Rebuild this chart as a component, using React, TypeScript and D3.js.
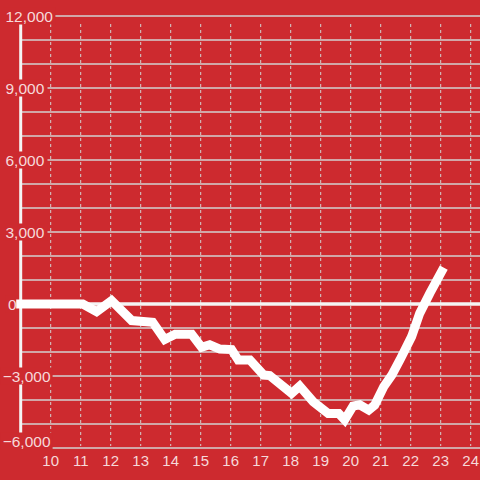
import React from "react";
import * as d3 from "d3";

const hours = [9, 11.07, 11.53, 12.03, 12.7, 13.4, 13.8, 14.15, 14.7, 15.03, 15.3, 15.64, 16.03, 16.25, 16.64, 17.1, 17.3, 18.03, 18.3, 18.75, 19.25, 19.6, 19.8, 20.08, 20.3, 20.6, 20.8, 21.1, 21.37, 21.64, 22.03, 22.3, 22.64, 23.03];
const values = [0, 0, -320, 140, -690, -760, -1480, -1260, -1260, -1800, -1700, -1880, -1900, -2330, -2330, -2960, -2980, -3720, -3420, -4070, -4560, -4560, -4830, -4250, -4200, -4420, -4210, -3450, -2960, -2330, -1360, -390, 450, 1350];
const xTicks = [10, 11, 12, 13, 14, 15, 16, 17, 18, 19, 20, 21, 22, 23, 24];
const yGrid = d3.range(-6000, 12001, 1000);
const yLabels = [12000, 9000, 6000, 3000, 0, -3000, -6000];

const W = 480;
const H = 480;
const BG = "#cd2a2f";
const GRID = "#d2d2d2";
const TEXT = "#f6d9da";

export default function App() {
  const x = d3.scaleLinear().domain([9, 24]).range([20.7, 470.7]);
  const y = d3.scaleLinear().domain([-6000, 12000]).range([448, 16]);
  const fmt = d3.format(",");
  const line = d3
    .line<number>()
    .x((_, i) => x(hours[i]))
    .y((v) => y(v));

  const labelW = (s: string) => s.length * 7.9;
  const yMin = d3.min(yLabels) as number;

  return (
    <div style={{ position: "fixed", left: 0, top: 0, width: W, height: H }}>
      <svg width={W} height={H} style={{ display: "block", fontFamily: "'Liberation Sans', Arial, sans-serif" }}>
        <rect x={0} y={0} width={W} height={H} fill={BG} />
        {xTicks.map((t) => (
          <line key={"vx" + t} x1={x(t)} x2={x(t)} y1={y(12000) + 8} y2={y(-6000) - 2} stroke={GRID} strokeWidth={1} strokeDasharray="3,3" />
        ))}
        {yGrid.map((g) => (
          <line key={"gy" + g} x1={x(9)} x2={W} y1={y(g)} y2={y(g)} stroke={GRID} strokeWidth={1.3} />
        ))}
        <line x1={x(9)} x2={x(9)} y1={y(12000)} y2={y(-6000) - 12} stroke="#f4f4f4" strokeWidth={3} />
        <line x1={x(9)} x2={W} y1={y(0)} y2={y(0)} stroke="#f4f4f4" strokeWidth={3.5} />
        {yLabels.map((v) => {
          const s = fmt(v);
          const tx = v < 0 ? 2.7 : v === 0 ? 8 : 5.5;
          const cy = y(v) + (v === yMin ? -7 : 0);
          return (
            <g key={"yl" + v}>
              <rect x={tx - 2.5} y={cy - 8.5} width={labelW(s) + 5} height={17} fill={BG} />
              <text x={tx} y={cy + 5.6} fill={TEXT} fontSize={15.5}>
                {s}
              </text>
            </g>
          );
        })}
        <path d={line(values) || ""} fill="none" stroke="#ffffff" strokeWidth={9} strokeLinejoin="miter" strokeLinecap="square" />
        {xTicks.map((t) => (
          <text key={"xl" + t} x={x(t)} y={466} fill={TEXT} fontSize={15} textAnchor="middle">
            {t}
          </text>
        ))}
      </svg>
    </div>
  );
}
